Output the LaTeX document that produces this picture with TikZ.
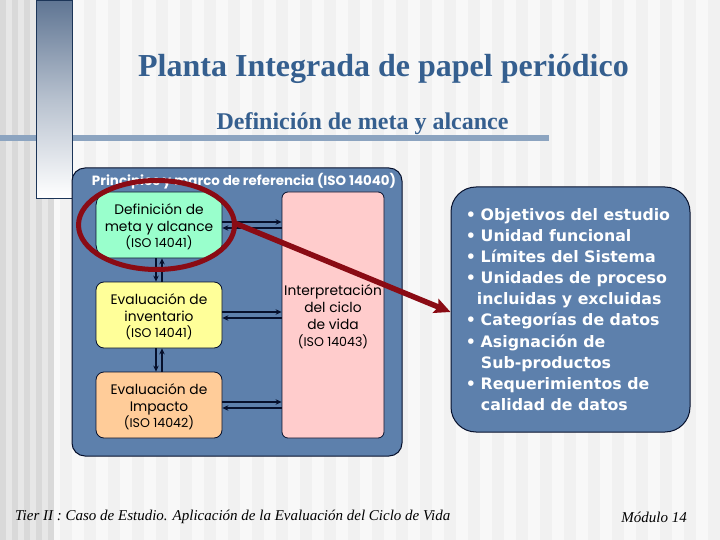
\documentclass[tikz,border=0pt]{standalone}
\usepackage{fontspec}
\setmainfont{Liberation Serif}
\newfontfamily\diagfont{Poppins}
\newfontfamily\listfont{DejaVu Sans}
\usetikzlibrary{shapes.geometric,arrows.meta}
\definecolor{bgbase}{HTML}{F8F8F8}
\definecolor{stripe}{HTML}{F1F1F1}
\definecolor{banddark}{HTML}{D9D9D9}
\definecolor{bandlight}{HTML}{E7E7E7}
\definecolor{rail}{HTML}{8CA4C0}
\definecolor{paneltop}{HTML}{5F7593}
\definecolor{panelline}{HTML}{1C3558}
\definecolor{titleblue}{HTML}{355F8F}
\definecolor{panelblue}{HTML}{5D80AC}
\definecolor{ink}{HTML}{06102C}
\definecolor{wine}{HTML}{8A0B14}
\tikzset{
  bluebox/.style={draw=ink,line width=1pt,fill=panelblue},
  stagebox/.style={draw=ink,line width=.8pt,minimum width=126pt,minimum height=66pt,inner sep=0pt,align=center,rounded corners=8pt,font=\diagfont\fontsize{13.8}{16.8}\selectfont,text=black},
  wire/.style={draw=ink,line width=1.4pt,-{Stealth[length=6pt,width=5.5pt]}},
  footer/.style={font=\itshape\fontsize{15}{17}\selectfont,text=black,inner sep=0pt}
}
\newcommand{\smalliso}[1]{{\fontsize{12.6}{16.8}\selectfont #1}}
\newcommand{\dropline}{\rule{0pt}{14.5pt}}
\begin{document}
\begin{tikzpicture}[x=1pt,y=-1pt]
\useasboundingbox (0,0) rectangle (720,540);
% background stripes
\fill[bgbase] (0,0) rectangle (720,540);
\foreach \a in {60,84,108,132,156,180,204,228,252,276,300,324,348,372,396,420,444,468,492,516,540,564,588,612,636,660,684,708}
  \fill[stripe] (\a,0) rectangle (\a+12,540);
\foreach \a in {0,12,24,36,48}
  \fill[banddark] (\a,0) rectangle (\a+6,540);
\foreach \a in {6,18,30,42}
  \fill[bandlight] (\a,0) rectangle (\a+6,540);
% rail and column
\fill[rail] (0,135) rectangle (549,141);
\draw[panelline,line width=.8pt,top color=paneltop,bottom color=white,middle color=paneltop!45!white] (36.5,0) rectangle (72.5,198);
% title
\node[font=\bfseries\fontsize{32}{35}\selectfont,text=titleblue,inner sep=0pt] (title) at (383.5,69) {Planta Integrada de papel periódico};
\node[font=\bfseries\fontsize{24}{27}\selectfont,text=titleblue,inner sep=0pt] (subtitle) at (362.5,124) {Definición de meta y alcance};
% outer panel
\node[bluebox,rounded corners=13pt,minimum width=330pt,minimum height=288pt,inner sep=0pt] (outer) at (237,312) {};
\node[font=\diagfont\bfseries\fontsize{13.4}{15}\selectfont,text=white,inner sep=0pt] (outertext) at (244,181) {Principios y marco de referencia (ISO 14040)};
% stages
\node[stagebox,rounded corners=13pt,fill={rgb,255:red,153;green,255;blue,204}] (goal) at (159,225) {\dropline Definición de\\meta y alcance\\\smalliso{(ISO 14041)}};
\node[stagebox,fill={rgb,255:red,255;green,255;blue,153}] (inv) at (159,315) {\dropline Evaluación de\\inventario\\\smalliso{(ISO 14041)}};
\node[stagebox,fill={rgb,255:red,255;green,204;blue,153}] (imp) at (159,405) {\dropline Evaluación de\\Impacto\\\smalliso{(ISO 14042)}};
\node[stagebox,fill={rgb,255:red,255;green,204;blue,204},minimum width=102pt,minimum height=246pt,rounded corners=6pt] (interp) at (333,315) {\dropline Interpretación\\del ciclo\\de vida\\\smalliso{(ISO 14043)}};
% wires
\foreach \n in {goal,inv,imp}{
  \draw[wire] ([yshift=3pt]\n.east) -- ([yshift=3pt]\n.east -| interp.west);
  \draw[wire] ([yshift=-3pt]\n.east -| interp.west) -- ([yshift=-3pt]\n.east);
}
\draw[wire] ([xshift=-3pt]goal.south) -- ([xshift=-3pt]inv.north);
\draw[wire] ([xshift=3pt]inv.north) -- ([xshift=3pt]goal.south);
\draw[wire] ([xshift=-3pt]inv.south) -- ([xshift=-3pt]imp.north);
\draw[wire] ([xshift=3pt]imp.north) -- ([xshift=3pt]inv.south);
% right list
\node[bluebox,rounded corners=25pt,minimum width=239pt,minimum height=245pt,inner sep=0pt,text=white,align=left,font=\listfont\bfseries\fontsize{15.8}{21.1}\selectfont] (list) at (570.5,309.5) {%
•\hspace*{.3em}Objetivos del estudio\hspace*{5pt}\\
•\hspace*{.3em}Unidad funcional\\
•\hspace*{.3em}Límites del Sistema\\
•\hspace*{.3em}Unidades de proceso\\
\hspace*{.7em}incluidas y excluidas\\
•\hspace*{.3em}Categorías de datos\\
•\hspace*{.3em}Asignación de\\
\hspace*{.95em}Sub-productos\\
•\hspace*{.3em}Requerimientos de\\
\hspace*{.95em}calidad de datos};
% highlight
\node[draw=wine,line width=5pt,ellipse,minimum width=156pt,minimum height=89pt,inner sep=0pt,outer sep=0pt] (ring) at (156.5,225) {};
\draw[wine,line width=5.5pt,-{Stealth[length=16pt,width=15pt,inset=3pt]}] ([yshift=2pt]ring.east) -- ([yshift=-2.5pt]list.west);
% footer
\node[footer,anchor=west] (footl) at (15,517) {Tier II : Caso de Estudio. Aplicación de la Evaluación del Ciclo de Vida};
\node[footer,anchor=east] (footr) at (687,517) {Módulo 14};
\end{tikzpicture}
\end{document}
